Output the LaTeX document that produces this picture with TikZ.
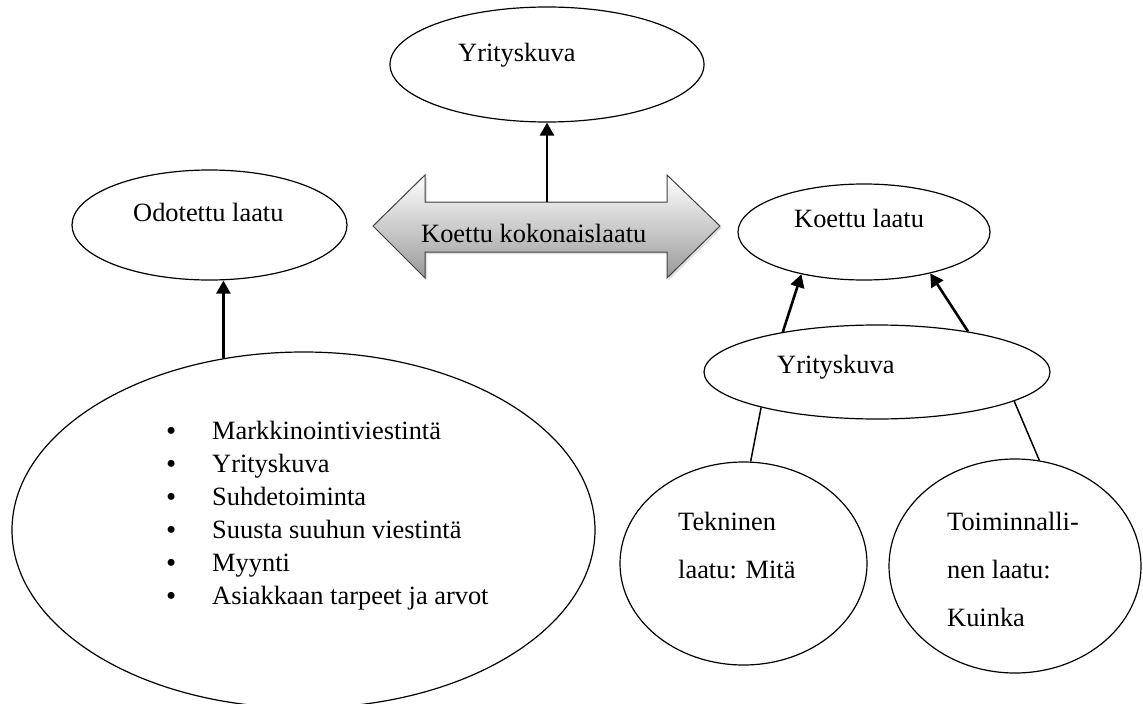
\documentclass[tikz,border=0pt]{standalone}
\usepackage{fontspec}
\setmainfont{Liberation Serif}
\usetikzlibrary{shapes.geometric,arrows.meta,shadows}
\tikzset{
  oval/.style={ellipse, draw, line width=1.2pt, inner sep=0pt},
  txt/.style={anchor=base west, inner sep=0pt},
  dot/.style={txt, font=\fontsize{29}{29}\selectfont},
  pil/.style={line width=2.6pt, -{Triangle[length=13pt,width=14pt]}},
  link/.style={line width=1.5pt},
}
\begin{document}
\begin{tikzpicture}[x=1pt,y=-1pt,font=\fontsize{26.4}{33}\selectfont]
\useasboundingbox (0,0) rectangle (1143,704);
% ellipses
\node[oval, minimum width=314pt, minimum height=115pt] (ykt) at (547,64.5) {};
\node[oval, minimum width=275pt, minimum height=110pt] (odo) at (209.5,225) {};
\node[oval, minimum width=583pt, minimum height=356pt] (big) at (303.5,530) {};
\node[oval, minimum width=252pt, minimum height=96pt] (koe) at (864,232) {};
\node[oval, minimum width=346pt, minimum height=94pt] (ykm) at (877,372) {};
\node[oval, minimum width=247pt, minimum height=203pt] (tek) at (743.5,563.5) {};
\node[oval, minimum width=252pt, minimum height=214pt] (toi) at (1015,566) {};
%
\shade[top color=white, middle color=black!12, bottom color=black!40, draw=black!75, line width=1pt,
  drop shadow={opacity=0.25, shadow xshift=2pt, shadow yshift=-2pt}]
  (373,226) -- (425,175) -- (425,202) -- (667,202) -- (667,175) -- (720,226)
  -- (667,278) -- (667,252) -- (425,252) -- (425,278) -- cycle;
\coordinate (kok) at (547,202);
%
\node[txt] (ykt-t) at (458,61) {Yrityskuva};
\node[txt] (odo-t) at (133,221) {Odotettu laatu};
\node[txt] (kok-t) at (421,242) {Koettu kokonaislaatu};
\node[txt] (koe-t) at (794,227) {Koettu laatu};
\node[txt] (ykm-t) at (777,373) {Yrityskuva};
\node[txt] (tek-a) at (678,530) {Tekninen};
\node[txt] (tek-b) at (678,578) {laatu: Mitä};
\node[txt] (toi-a) at (947,530) {Toiminnalli-};
\node[txt] (toi-b) at (947,578) {nen laatu:};
\node[txt] (toi-c) at (947,626) {Kuinka};
\foreach \i/\t in {0/Markkinointiviestintä, 1/Yrityskuva, 2/Suhdetoiminta, 3/Suusta suuhun viestintä, 4/Myynti, 5/Asiakkaan tarpeet ja arvot}{
  \node[dot] (pt\i) at (166,440+33*\i) {\textbullet};
  \node[txt] (li\i) at (212,439+33*\i) {\t};
}
%
\draw[pil] (kok) -- (ykt.south);
\draw[pil] (big.115) -- (big.115 |- odo.south);
\draw[pil] (ykm.157) -- (koe.-146);
\draw[pil] (ykm.24) -- (koe.-32);
\draw[link] (ykm.-163) -- (tek.86);
\draw[link] (ykm.-12) -- (toi.77);
\end{tikzpicture}
\end{document}
